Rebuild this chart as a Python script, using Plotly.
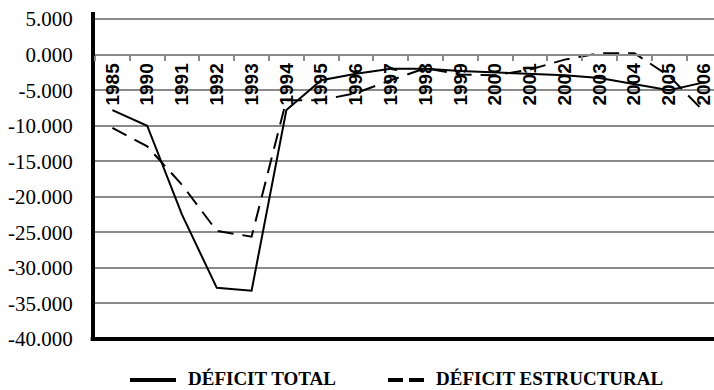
import plotly.graph_objects as go

# ---- data ----
years = ["1985", "1990", "1991", "1992", "1993", "1994", "1995", "1996", "1997",
         "1998", "1999", "2000", "2001", "2002", "2003", "2004", "2005", "2006"]
deficit_total = [-7.8, -10.0, -22.5, -32.8, -33.2, -7.8, -3.6, -2.7, -2.0,
                 -2.0, -2.3, -2.5, -2.7, -2.9, -3.3, -4.1, -5.0, -3.9]
deficit_estructural = [-10.3, -12.9, -18.3, -24.8, -25.6, -6.4, -6.4, -5.4, -3.6,
                       -1.9, -2.8, -2.9, -2.1, -0.7, 0.2, 0.2, -3.0, -8.0]
y_tick_values = [5, 0, -5, -10, -15, -20, -25, -30, -35, -40]
y_tick_labels = ["5.000", "0.000", "-5.000", "-10.000", "-15.000", "-20.000",
                 "-25.000", "-30.000", "-35.000", "-40.000"]
series_names = ["DÉFICIT TOTAL", "DÉFICIT ESTRUCTURAL"]

W, H = 714, 390
ML, MR, MT, MB = 95, 0, 12, 51
Y_MIN, Y_MAX = -40, 6
GRID = "#8a8a8a"

PW, PH = W - ML - MR, H - MT - MB


def px_x(px):  # figure pixel -> paper x
    return (px - ML) / PW


def px_y(py):  # figure pixel -> paper y
    return (H - MB - py) / PH


fig = go.Figure()
fig.add_trace(go.Scatter(x=years, y=deficit_total, mode="lines", name=series_names[0],
                         line=dict(color="black", width=2), showlegend=False))
fig.add_trace(go.Scatter(x=years, y=deficit_estructural, mode="lines", name=series_names[1],
                         line=dict(color="black", width=2, dash="16px,9px"), showlegend=False))

# custom legend below the plot
LEG_LINE_Y = 380
legend_font = dict(family="Liberation Serif", size=19, color="black", weight="bold")
shapes = [
    dict(type="line", xref="paper", yref="paper", x0=-0.007, x1=1, y0=0, y1=0,
         line=dict(color="black", width=4)),
    dict(type="line", xref="paper", yref="paper", x0=px_x(130), x1=px_x(176),
         y0=px_y(LEG_LINE_Y), y1=px_y(LEG_LINE_Y), line=dict(color="black", width=4)),
    dict(type="line", xref="paper", yref="paper", x0=px_x(388), x1=px_x(424),
         y0=px_y(LEG_LINE_Y), y1=px_y(LEG_LINE_Y), line=dict(color="black", width=4, dash="15px,6px")),
]
annotations = [
    dict(text=series_names[0], xref="paper", yref="paper", x=px_x(186), y=px_y(391),
         xanchor="left", yanchor="bottom", showarrow=False, font=legend_font),
    dict(text=series_names[1], xref="paper", yref="paper", x=px_x(434), y=px_y(391),
         xanchor="left", yanchor="bottom", showarrow=False, font=legend_font),
]

fig.update_layout(
    width=W, height=H,
    margin=dict(l=ML, r=MR, t=MT, b=MB, autoexpand=False),
    paper_bgcolor="white", plot_bgcolor="white",
    showlegend=False,
    xaxis=dict(type="category", range=[-0.5, 17.29], anchor="free",
               position=(0 - Y_MIN) / (Y_MAX - Y_MIN),
               showline=True, linecolor=GRID, linewidth=2,
               ticks="outside", ticklen=5, tickwidth=2, tickcolor=GRID,
               tickson="boundaries", tickangle=-90,
               tickfont=dict(family="Liberation Sans", size=19, color="black", weight="bold"),
               showgrid=False, zeroline=False),
    yaxis=dict(range=[Y_MIN, Y_MAX], tickvals=y_tick_values, ticktext=y_tick_labels,
               showgrid=True, gridcolor=GRID, gridwidth=2, zeroline=False,
               showline=True, linecolor="black", linewidth=4, ticks="",
               ticklabelstandoff=14,
               tickfont=dict(family="Liberation Serif", size=21, color="black")),
    shapes=shapes,
    annotations=annotations,
)

fig.write_html("out.html")
